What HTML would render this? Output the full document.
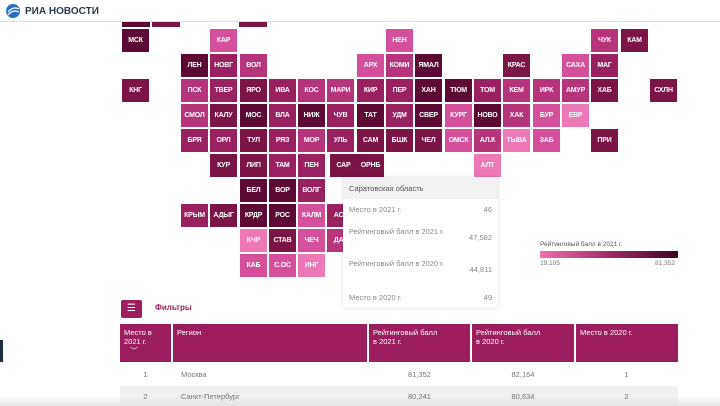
<!DOCTYPE html>
<html><head><meta charset="utf-8"><style>
*{margin:0;padding:0;box-sizing:border-box}
body{width:720px;height:406px;overflow:hidden;background:#fff;font-family:"Liberation Sans","DejaVu Sans",sans-serif;position:relative}
.t{position:absolute;width:27px;height:23px;color:#fff;font-size:7px;font-weight:bold;display:flex;align-items:center;justify-content:center;letter-spacing:-0.2px}
.D{background:#5c0a33}.A{background:#7a1545}.B{background:#9a2160}.C{background:#b6347a}.E{background:#d5509a}.F{background:#ec78b5}
.tt{position:absolute;left:343px;top:177px;width:155px;height:131px;background:#fff;box-shadow:0 0 3px rgba(0,0,0,.15);font-size:7.5px;color:#888}
.tt .h{background:#f1f1f1;height:22px;padding:7px 0 0 6px;color:#555}
.tt .r{position:absolute;left:6px;right:6px}
.tt .v{position:absolute;right:0}
</style></head><body>
<div style="position:absolute;left:0;top:0;width:720px;height:22px;background:#fff;border-bottom:1px solid #ddd;z-index:3"></div>
<svg style="position:absolute;left:4px;top:3px;z-index:4" width="18" height="16" viewBox="0 0 18 16"><circle cx="9" cy="8" r="7" fill="#2a6fc0"/><path d="M4 9 Q9 3 15 6" stroke="#fff" stroke-width="1.2" fill="none"/><path d="M4 12 Q9 6 15 9" stroke="#fff" stroke-width="1.2" fill="none"/></svg>
<div style="position:absolute;left:25px;top:6px;z-index:4;font-size:10px;font-weight:bold;color:#2a3a4a">РИА НОВОСТИ</div>
<div class="t D" style="left:122px;top:22px;height:5px;width:28px"></div>
<div class="t A" style="left:152px;top:22px;height:5px;width:28px"></div>
<div class="t A" style="left:239px;top:22px;height:5px;width:28px"></div>
<div style="position:absolute;left:0;top:340px;width:3px;height:22px;background:#1e3040"></div>

<div class="t D" style="left:122px;top:29px">МСК</div>
<div class="t E" style="left:210px;top:29px">КАР</div>
<div class="t E" style="left:386px;top:29px">НЕН</div>
<div class="t C" style="left:591px;top:29px">ЧУК</div>
<div class="t A" style="left:621px;top:29px">КАМ</div>
<div class="t D" style="left:181px;top:54px">ЛЕН</div>
<div class="t B" style="left:210px;top:54px">НОВГ</div>
<div class="t C" style="left:240px;top:54px">ВОЛ</div>
<div class="t E" style="left:357px;top:54px">АРХ</div>
<div class="t C" style="left:386px;top:54px">КОМИ</div>
<div class="t D" style="left:415px;top:54px">ЯМАЛ</div>
<div class="t A" style="left:503px;top:54px">КРАС</div>
<div class="t E" style="left:562px;top:54px">САХА</div>
<div class="t B" style="left:591px;top:54px">МАГ</div>
<div class="t A" style="left:122px;top:79px">КНГ</div>
<div class="t C" style="left:181px;top:79px">ПСК</div>
<div class="t B" style="left:210px;top:79px">ТВЕР</div>
<div class="t A" style="left:240px;top:79px">ЯРО</div>
<div class="t B" style="left:269px;top:79px">ИВА</div>
<div class="t C" style="left:298px;top:79px">КОС</div>
<div class="t C" style="left:327px;top:79px">МАРИ</div>
<div class="t B" style="left:357px;top:79px">КИР</div>
<div class="t B" style="left:386px;top:79px">ПЕР</div>
<div class="t D" style="left:415px;top:79px">ХАН</div>
<div class="t D" style="left:445px;top:79px">ТЮМ</div>
<div class="t B" style="left:474px;top:79px">ТОМ</div>
<div class="t C" style="left:503px;top:79px">КЕМ</div>
<div class="t C" style="left:533px;top:79px">ИРК</div>
<div class="t C" style="left:562px;top:79px">АМУР</div>
<div class="t A" style="left:591px;top:79px">ХАБ</div>
<div class="t A" style="left:650px;top:79px">СХЛН</div>
<div class="t C" style="left:181px;top:104px">СМОЛ</div>
<div class="t A" style="left:210px;top:104px">КАЛУ</div>
<div class="t D" style="left:240px;top:104px">МОС</div>
<div class="t B" style="left:269px;top:104px">ВЛА</div>
<div class="t D" style="left:298px;top:104px">НИЖ</div>
<div class="t B" style="left:327px;top:104px">ЧУВ</div>
<div class="t D" style="left:357px;top:104px">ТАТ</div>
<div class="t B" style="left:386px;top:104px">УДМ</div>
<div class="t D" style="left:415px;top:104px">СВЕР</div>
<div class="t E" style="left:445px;top:104px">КУРГ</div>
<div class="t D" style="left:474px;top:104px">НОВО</div>
<div class="t C" style="left:503px;top:104px">ХАК</div>
<div class="t E" style="left:533px;top:104px">БУР</div>
<div class="t F" style="left:562px;top:104px">ЕВР</div>
<div class="t B" style="left:181px;top:129px">БРЯ</div>
<div class="t B" style="left:210px;top:129px">ОРЛ</div>
<div class="t A" style="left:240px;top:129px">ТУЛ</div>
<div class="t B" style="left:269px;top:129px">РЯЗ</div>
<div class="t C" style="left:298px;top:129px">МОР</div>
<div class="t B" style="left:327px;top:129px">УЛЬ</div>
<div class="t A" style="left:357px;top:129px">САМ</div>
<div class="t A" style="left:386px;top:129px">БШК</div>
<div class="t A" style="left:415px;top:129px">ЧЕЛ</div>
<div class="t E" style="left:445px;top:129px">ОМСК</div>
<div class="t C" style="left:474px;top:129px">АЛ.К</div>
<div class="t F" style="left:503px;top:129px">ТЫВА</div>
<div class="t E" style="left:533px;top:129px">ЗАБ</div>
<div class="t A" style="left:591px;top:129px">ПРИ</div>
<div class="t A" style="left:210px;top:154px">КУР</div>
<div class="t A" style="left:240px;top:154px">ЛИП</div>
<div class="t B" style="left:269px;top:154px">ТАМ</div>
<div class="t B" style="left:298px;top:154px">ПЕН</div>
<div class="t A" style="left:330px;top:154px">САР</div>
<div class="t A" style="left:357px;top:154px">ОРНБ</div>
<div class="t F" style="left:474px;top:154px">АЛТ</div>
<div class="t D" style="left:240px;top:179px">БЕЛ</div>
<div class="t D" style="left:269px;top:179px">ВОР</div>
<div class="t B" style="left:298px;top:179px">ВОЛГ</div>
<div class="t B" style="left:181px;top:204px">КРЫМ</div>
<div class="t A" style="left:210px;top:204px">АДЫГ</div>
<div class="t D" style="left:240px;top:204px">КРДР</div>
<div class="t D" style="left:269px;top:204px">РОС</div>
<div class="t E" style="left:298px;top:204px">КАЛМ</div>
<div class="t B" style="left:327px;top:204px">АСТ</div>
<div class="t F" style="left:240px;top:229px">КЧР</div>
<div class="t A" style="left:269px;top:229px">СТАВ</div>
<div class="t E" style="left:298px;top:229px">ЧЕЧ</div>
<div class="t C" style="left:327px;top:229px">ДАГ</div>
<div class="t E" style="left:240px;top:254px">КАБ</div>
<div class="t E" style="left:269px;top:254px">С.ОС</div>
<div class="t F" style="left:298px;top:254px">ИНГ</div>

<div class="tt">
<div class="h">Саратовская область</div>
<div class="r" style="top:28px">Место в 2021 г.<span class="v">46</span></div>
<div class="r" style="top:50px;width:120px">Рейтинговый балл в 2021 г.</div><div class="r" style="top:56px"><span class="v">47,582</span></div>
<div class="r" style="top:82px;width:120px">Рейтинговый балл в 2020 г.</div><div class="r" style="top:88px"><span class="v">44,811</span></div>
<div class="r" style="top:116px">Место в 2020 г.<span class="v">49</span></div>
</div>

<div style="position:absolute;left:540px;top:241px;font-size:6.5px;color:#555">Рейтинговый балл в 2021 г.</div>
<div style="position:absolute;left:540px;top:251px;width:138px;height:7px;background:linear-gradient(90deg,#f070b0,#a42a68,#3a0520)"></div>
<div style="position:absolute;left:540px;top:260px;font-size:6.5px;color:#777">19,105</div>
<div style="position:absolute;left:655px;top:260px;font-size:6.5px;color:#777">81,352</div>

<div style="position:absolute;left:121px;top:300px;width:21px;height:18px;background:#9c1e5e;border-radius:2px;color:#fff;font-size:10px;text-align:center;line-height:17px">☰</div>
<div style="position:absolute;left:155px;top:303px;font-size:8px;color:#9c1e5e;font-weight:bold">Фильтры</div>

<div style="position:absolute;left:120px;top:324px;width:558px;height:38px;background:#9c1e5e"></div>
<div style="position:absolute;top:324px;left:171px;width:2px;height:38px;background:#fff"></div>
<div style="position:absolute;top:324px;left:367px;width:2px;height:38px;background:#fff"></div>
<div style="position:absolute;top:324px;left:470px;width:2px;height:38px;background:#fff"></div>
<div style="position:absolute;top:324px;left:574px;width:2px;height:38px;background:#fff"></div>
<div style="position:absolute;left:124px;top:328px;font-size:7.5px;color:#fff;line-height:9px">Место в<br>2021 г.<br>&nbsp;&nbsp;&nbsp;﹀</div>
<div style="position:absolute;left:177px;top:328px;font-size:7.5px;color:#fff">Регион</div>
<div style="position:absolute;left:373px;top:328px;font-size:7.5px;color:#fff;line-height:9px">Рейтинговый балл<br>в 2021 г.</div>
<div style="position:absolute;left:476px;top:328px;font-size:7.5px;color:#fff;line-height:9px">Рейтинговый балл<br>в 2020 г.</div>
<div style="position:absolute;left:580px;top:328px;font-size:7.5px;color:#fff">Место в 2020 г.</div>

<div style="position:absolute;left:120px;top:386px;width:558px;height:20px;background:#f0f0f0"></div>
<div style="position:absolute;left:0;top:396px;width:720px;height:10px;background:linear-gradient(#fff0,#e6e6e6)"></div>
<div style="position:absolute;top:370px;left:120px;width:51px;text-align:center;font-size:7.5px;color:#777">1</div>
<div style="position:absolute;top:370px;left:181px;font-size:7.5px;color:#777">Москва</div>
<div style="position:absolute;top:370px;left:368px;width:103px;text-align:center;font-size:7.5px;color:#777">81,352</div>
<div style="position:absolute;top:370px;left:471px;width:104px;text-align:center;font-size:7.5px;color:#777">82,164</div>
<div style="position:absolute;top:370px;left:575px;width:103px;text-align:center;font-size:7.5px;color:#777">1</div>
<div style="position:absolute;top:392px;left:120px;width:51px;text-align:center;font-size:7.5px;color:#777">2</div>
<div style="position:absolute;top:392px;left:181px;font-size:7.5px;color:#777">Санкт-Петербург</div>
<div style="position:absolute;top:392px;left:368px;width:103px;text-align:center;font-size:7.5px;color:#777">80,241</div>
<div style="position:absolute;top:392px;left:471px;width:104px;text-align:center;font-size:7.5px;color:#777">80,634</div>
<div style="position:absolute;top:392px;left:575px;width:103px;text-align:center;font-size:7.5px;color:#777">2</div>
</body></html>
